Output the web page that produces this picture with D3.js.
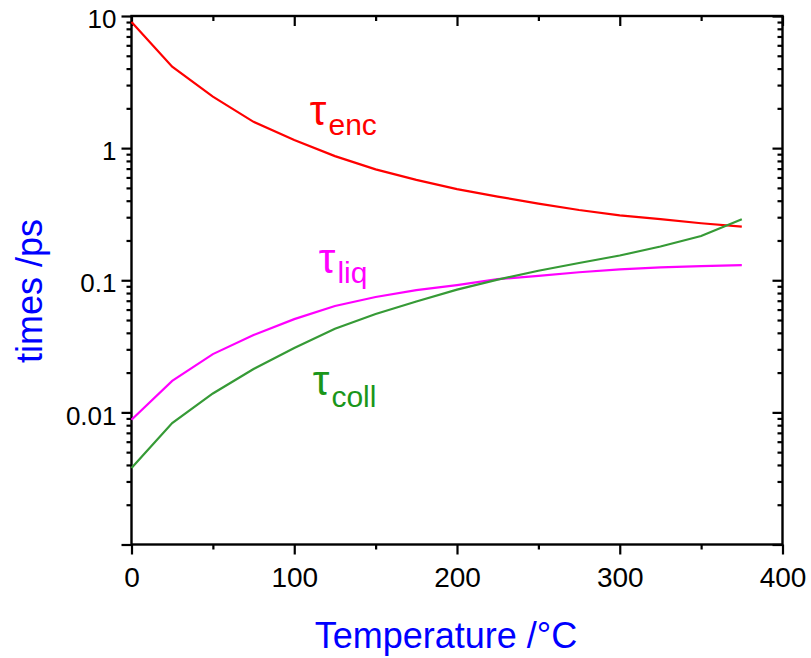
<!DOCTYPE html>
<html>
<head>
<meta charset="utf-8">
<script src="https://cdn.jsdelivr.net/npm/d3@7"></script>
<style>
    body { margin: 0; background: white; }
    text { font-family: "Liberation Sans", Arial, sans-serif; }
</style>
</head>
<body>
<script>
const temps = [0, 25, 50, 75, 100, 125, 150, 175, 200, 225, 250, 275, 300, 325, 350, 375];
const tauEnc = [9.0, 4.13, 2.45, 1.58, 1.15, 0.87, 0.69, 0.575, 0.49, 0.43, 0.38, 0.34, 0.31, 0.29, 0.27, 0.255];
const tauLiq = [0.0088, 0.0173, 0.0276, 0.0385, 0.0508, 0.0638, 0.0747, 0.0843, 0.092, 0.102, 0.108, 0.115, 0.121, 0.125, 0.128, 0.130];
const tauColl = [0.0038, 0.0083, 0.0139, 0.0213, 0.0307, 0.043, 0.0555, 0.069, 0.085, 0.101, 0.118, 0.135, 0.154, 0.18, 0.216, 0.29];
const xMajor = [0, 100, 200, 300, 400];
const xMinor = [50, 150, 250, 350];
const yMajor = [10, 1, 0.1, 0.01, 0.001];
const yLabels = ["10", "1", "0.1", "0.01", ""];

const W = 811, H = 658;
const pLeft = 131.5, pRight = 782.5, pTop = 16, pBottom = 544.5;

const svg = d3.select("body")
    .append("svg")
    .attr("width", W)
    .attr("height", H);

const x = d3.scaleLinear().domain([0, 400]).range([pLeft, pRight]);
const y = d3.scaleLog().domain([0.001, 10]).range([pBottom, pTop]);

// minor ticks 2..9 in every decade
const yMinor = [];
[0.001, 0.01, 0.1, 1].forEach(function (d) {
    for (let k = 2; k <= 9; k++) yMinor.push(d * k);
});

function styleAxis(g) {
    g.select(".domain").remove();
    g.selectAll("line").attr("stroke", "black").attr("stroke-width", 2.2);
}

// bottom (outward) and top (inward)
svg.append("g")
    .attr("transform", "translate(0," + pBottom + ")")
    .call(d3.axisBottom(x).tickValues(xMajor).tickSize(10).tickPadding(13)
        .tickFormat(d3.format("d")))
    .call(styleAxis)
    .call(g => g.selectAll("text").style("font-size", "28px").attr("fill", "black"));
svg.append("g")
    .attr("transform", "translate(0," + pBottom + ")")
    .call(d3.axisBottom(x).tickValues(xMinor).tickSize(5).tickFormat(""))
    .call(styleAxis);
svg.append("g")
    .attr("transform", "translate(0," + pTop + ")")
    .call(d3.axisBottom(x).tickValues(xMajor).tickSize(10).tickFormat(""))
    .call(styleAxis);
svg.append("g")
    .attr("transform", "translate(0," + pTop + ")")
    .call(d3.axisBottom(x).tickValues(xMinor).tickSize(5).tickFormat(""))
    .call(styleAxis);

// left (outward) and right (inward)
svg.append("g")
    .attr("transform", "translate(" + pLeft + ",0)")
    .call(d3.axisLeft(y).tickValues(yMajor).tickSize(10).tickPadding(5)
        .tickFormat((d, i) => yLabels[i]))
    .call(styleAxis)
    .call(g => g.selectAll("text").style("font-size", "26px").attr("dy", "0.45em").attr("fill", "black"));
svg.append("g")
    .attr("transform", "translate(" + pLeft + ",0)")
    .call(d3.axisLeft(y).tickValues(yMinor).tickSize(5).tickFormat(""))
    .call(styleAxis);
svg.append("g")
    .attr("transform", "translate(" + pRight + ",0)")
    .call(d3.axisLeft(y).tickValues(yMajor).tickSize(10).tickFormat(""))
    .call(styleAxis);
svg.append("g")
    .attr("transform", "translate(" + pRight + ",0)")
    .call(d3.axisLeft(y).tickValues(yMinor).tickSize(5).tickFormat(""))
    .call(styleAxis);

// frame
svg.append("rect")
    .attr("x", pLeft)
    .attr("y", pTop)
    .attr("width", pRight - pLeft)
    .attr("height", pBottom - pTop)
    .attr("fill", "none")
    .attr("stroke", "black")
    .attr("stroke-width", 2.4);

// curves
const series = [
    { values: tauEnc, color: "#ff0000", text: "#ff0000", sub: "enc", lx: 109.6, ly: 1.5, sdy: 10 },
    { values: tauLiq, color: "#ff00ff", text: "#ff00ff", sub: "liq", lx: 115.1, ly: 0.1135, sdy: 10 },
    { values: tauColl, color: "#369a36", text: "#1a961a", sub: "coll", lx: 111.4, ly: 0.01355, sdy: 12 }
];

const line = d3.line()
    .x((d, i) => x(temps[i]))
    .y(d => y(d));

series.forEach(function (s) {
    svg.append("path")
        .datum(s.values)
        .attr("d", line)
        .attr("fill", "none")
        .attr("stroke", s.color)
        .attr("stroke-width", 2.2);

    const t = svg.append("text")
        .attr("x", x(s.lx))
        .attr("y", y(s.ly))
        .attr("fill", s.text);
    t.append("tspan").style("font-size", "42px").text("τ");
    t.append("tspan").style("font-size", "30px").attr("dx", 2).attr("dy", s.sdy).text(s.sub);
});

// axis titles
svg.append("text")
    .attr("x", 446)
    .attr("y", 648)
    .attr("text-anchor", "middle")
    .style("font-size", "36px")
    .attr("fill", "#0000ff")
    .text("Temperature /°C");

svg.append("text")
    .attr("transform", "translate(42,363) rotate(-90)")
    .attr("text-anchor", "start")
    .style("font-size", "36px")
    .attr("fill", "#0000ff")
    .text("times /ps");
</script>
</body>
</html>
